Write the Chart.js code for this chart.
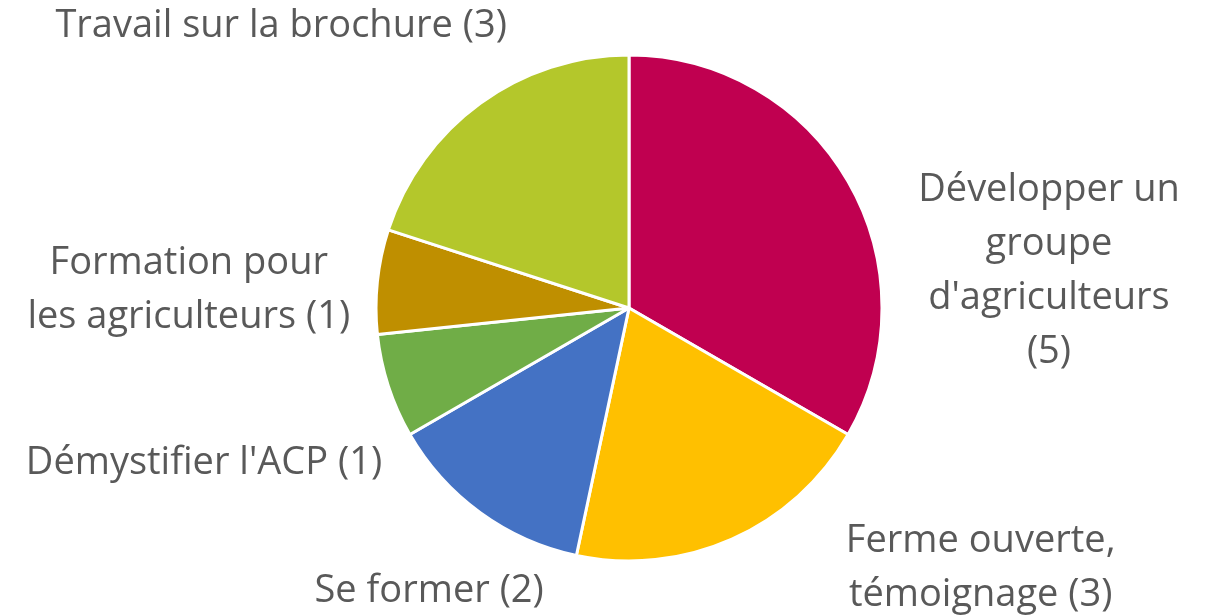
<!DOCTYPE html>
<html>
<head>
<meta charset="utf-8">
<script src="https://cdn.jsdelivr.net/npm/chart.js@4/dist/chart.umd.min.js"></script>
<style>
  html, body { margin: 0; padding: 0; background: #fff; }
  #wrap { width: 1206px; height: 616px; }
</style>
</head>
<body>
<div id="wrap"><canvas id="myChart" width="1206" height="616"></canvas></div>
<script>
// slice labels (each entry = lines of text)
var categories = [
    ['Développer un', 'groupe', "d'agriculteurs", '(5)'],
    ['Ferme ouverte,', 'témoignage (3)'],
    ['Se former (2)'],
    ["Démystifier l'ACP (1)"],
    ['Formation pour', 'les agriculteurs (1)'],
    ['Travail sur la brochure (3)']
];
var counts = [5, 3, 2, 1, 1, 3];
var sliceColors = ['#C00050', '#FFC000', '#4472C4', '#70AD47', '#BF8F00', '#B4C72B'];

// Outside labels, placed relative to pie centre in units of radius
var outsideLabels = {
    id: 'outsideLabels',
    afterDatasetsDraw: function (chart, args, opts) {
        var ctx = chart.ctx;
        var arcs = chart.getDatasetMeta(0).data;
        if (!arcs.length) return;
        var cx = arcs[0].x, cy = arcs[0].y, r = arcs[0].outerRadius;
        ctx.save();
        ctx.font = opts.font;
        ctx.fillStyle = opts.color;
        ctx.textAlign = 'center';
        ctx.textBaseline = 'middle';
        chart.data.labels.forEach(function (lines, i) {
            var p = opts.spots[i];
            var x = cx + p[0] * r;
            var y = cy + p[1] * r - (lines.length - 1) * opts.lineHeight / 2;
            lines.forEach(function (t, k) {
                ctx.fillText(t, x, y + k * opts.lineHeight);
            });
        });
        ctx.restore();
    }
};

var ctx = document.getElementById('myChart').getContext('2d');
var chart = new Chart(ctx, {
    type: 'pie',
    data: {
        labels: categories,
        datasets: [{
            data: counts,
            backgroundColor: sliceColors,
            borderColor: '#ffffff',
            borderWidth: 3,
            radius: 253
        }]
    },
    options: {
        responsive: false,
        animation: false,
        layout: { padding: { left: 52, top: 0, bottom: 0 } },
        plugins: {
            legend: { display: false },
            tooltip: { enabled: false },
            outsideLabels: {
                font: '38px "Open Sans"',
                color: '#595959',
                lineHeight: 54,
                spots: [
                    [1.66, -0.145],
                    [1.39, 1.03],
                    [-0.79, 1.12],
                    [-1.68, 0.615],
                    [-1.74, -0.07],
                    [-1.375, -1.115]
                ]
            }
        }
    },
    plugins: [outsideLabels]
});
</script>
</body>
</html>
